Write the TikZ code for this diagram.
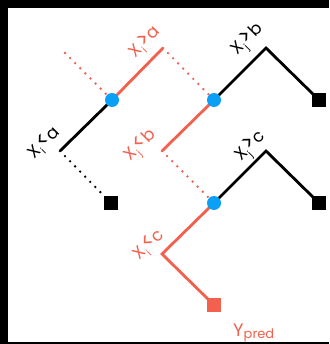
\documentclass[tikz,border=0pt]{standalone}
\usepackage{fontspec}
\setmainfont{Poppins}
\definecolor{tred}{RGB}{242,96,78}
\definecolor{tblue}{RGB}{10,160,245}
\newcommand{\lsub}[1]{\raisebox{-0.45ex}{\fontsize{10}{10}\selectfont #1}}
\newcommand{\rel}[1]{\raisebox{0.1ex}{\scalebox{1.25}{#1}}}
\tikzset{
  solidline/.style={line width=2.8pt},
  dotline/.style={line width=2.6pt, line cap=round, dash pattern=on 0pt off 7.2pt},
  split/.style={circle, fill=tblue, inner sep=0pt, minimum size=14pt},
  leaf/.style={rectangle, fill=black, inner sep=0pt, minimum size=14pt},
  redleaf/.style={rectangle, fill=tred, inner sep=0pt, minimum size=14pt},
  lbl/.style={font=\fontsize{17}{17}\selectfont, rotate=45, inner sep=0pt},
}
\begin{document}
\begin{tikzpicture}[x=1pt,y=-1pt]
\useasboundingbox (0,0) rectangle (329,344);
\fill[black] (0,0) rectangle (329,344);
\fill[white] (8,8) rectangle (329,342);
% coordinates
\coordinate (d1) at (112,100);
\coordinate (d2) at (214,100);
\coordinate (d3) at (214,203);
\coordinate (t1) at (65,53);
\coordinate (r1) at (163,48);
\coordinate (l1) at (60,151);
\coordinate (t2) at (266,48);
\coordinate (l2) at (162,151);
\coordinate (t3) at (266,151);
\coordinate (l3) at (162,254);
% lines
\draw[dotline, tred] (t1) -- (d1);
\draw[solidline, tred] (d1) -- (r1);
\draw[dotline, tred] (r1) -- (d2);
\draw[solidline] (d1) -- (l1);
\node[leaf] (s1) at (111,203) {};
\draw[dotline] (l1) -- (s1.center);
\node[leaf] (s2) at (319,100) {};
\draw[solidline, line join=miter] (d2) -- (t2) -- (s2.center);
\draw[solidline, tred] (d2) -- (l2);
\draw[dotline, tred] (l2) -- (d3);
\node[leaf] (s3) at (319,203) {};
\draw[solidline, line join=miter] (d3) -- (t3) -- (s3.center);
\node[redleaf] (s4) at (214,305) {};
\draw[solidline, tred, line join=miter] (d3) -- (l3) -- (s4.center);
\node[leaf] at (111,203) {};
\node[leaf] at (319,100) {};
\node[leaf] at (319,203) {};
\node[redleaf] at (214,305) {};
\node[split] (n1) at (d1) {};
\node[split] (n2) at (d2) {};
\node[split] (n3) at (d3) {};
% labels
\node[lbl] (la) at (44,143) {X\lsub{i}\rel{<}a};
\node[lbl, text=tred] (lb) at (145,42) {X\lsub{i}\rel{>}a};
\node[lbl] (lc) at (248,40) {X\lsub{j}\rel{>}b};
\node[lbl, text=tred] (ld) at (141,146) {X\lsub{j}\rel{<}b};
\node[lbl] (le) at (251,147) {X\lsub{j}\rel{>}c};
\node[lbl, text=tred] (lf) at (149,245) {X\lsub{i}\rel{<}c};
\node[text=tred, inner sep=0pt, anchor=base west] (yp) at (233,336) {{\fontsize{18}{18}\selectfont Y}\raisebox{-0.5ex}{\fontsize{13}{13}\selectfont pred}};
\end{tikzpicture}
\end{document}
